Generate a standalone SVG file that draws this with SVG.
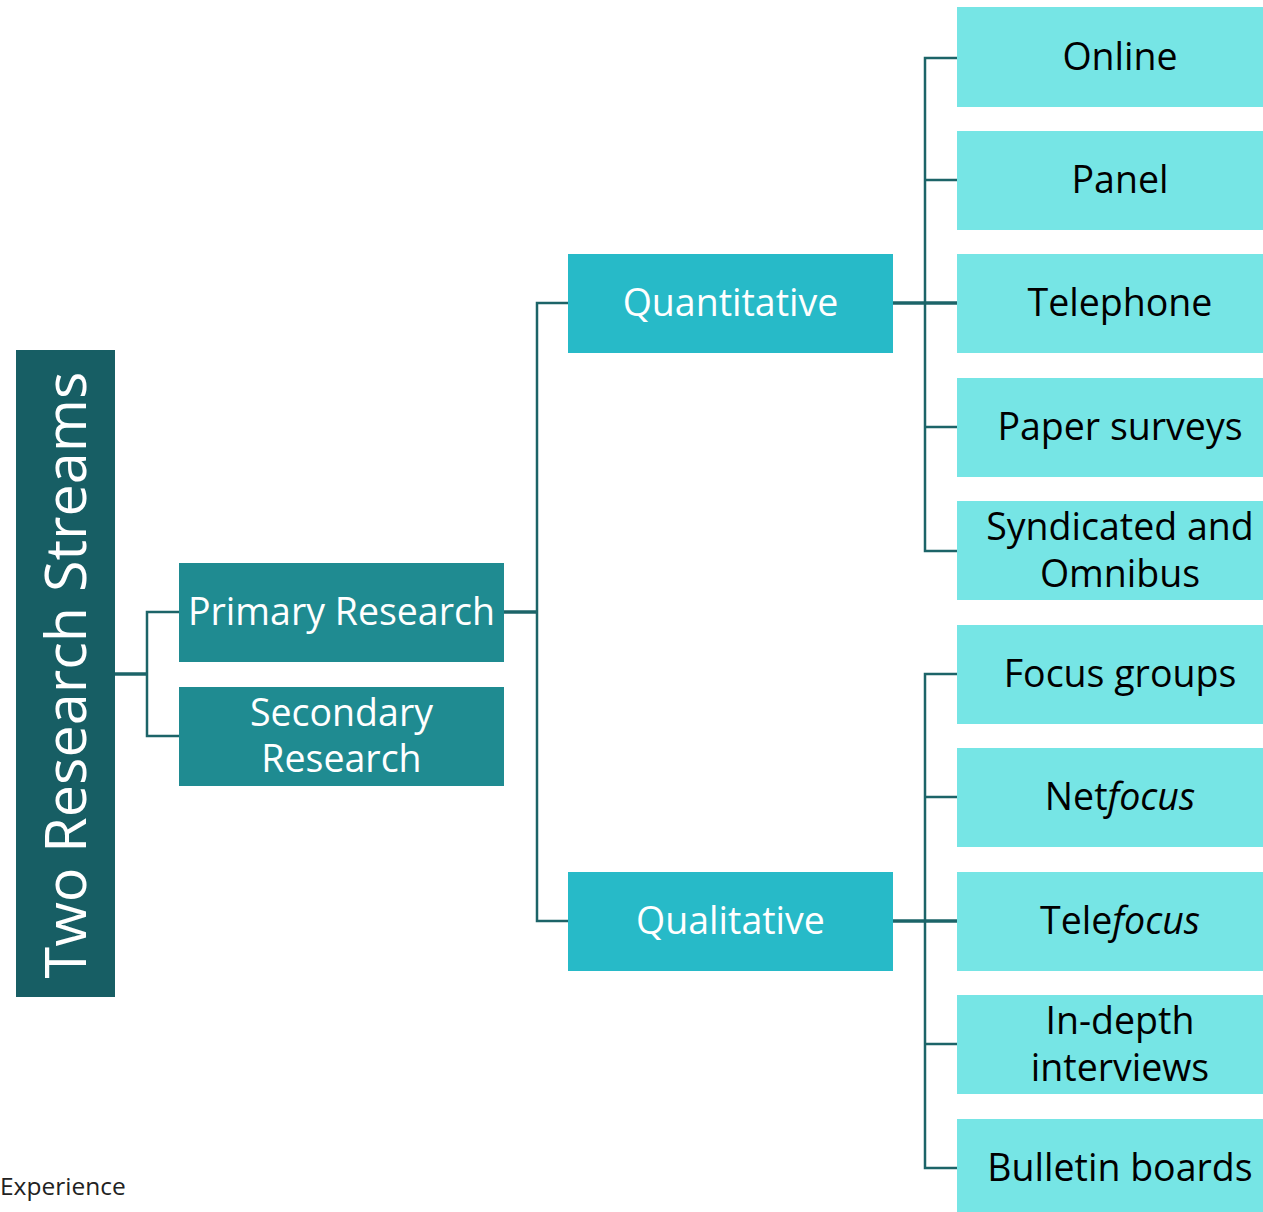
<svg xmlns="http://www.w3.org/2000/svg" width="1263" height="1212" viewBox="0 0 1263 1212">
  <style>
    .lbl { font-family: "Open Sans", "Noto Sans", sans-serif; font-size: 37.5px; text-anchor: middle; dominant-baseline: central; }
    .wt { fill: #ffffff; }
    .bk { fill: #000000; }
    .root { fill: #175e64; }
    .lvl1 { fill: #1f8b91; }
    .lvl2 { fill: #27bac8; }
    .leaf { fill: #76e5e5; }
    .conn { fill: none; stroke: #1c6468; stroke-width: 2.5; }
    .trunk { fill: none; stroke: #1c6468; stroke-width: 3.5; }
  </style>

  <!-- connectors -->
  <g id="connectors">
    <path class="trunk" d="M115 674 H147"/>
    <path class="conn" d="M179 612 H147 V736 H179"/>
    <path class="trunk" d="M504 612 H537"/>
    <path class="conn" d="M568 303 H537 V921 H568"/>
    <path class="trunk" d="M893 303 H957"/>
    <path class="conn" d="M957 58 H925 V551 H957 M925 180 H957 M925 427 H957"/>
    <path class="trunk" d="M893 921 H957"/>
    <path class="conn" d="M957 674 H925 V1168 H957 M925 797 H957 M925 1044 H957"/>
  </g>

  <g id="root">
    <rect class="root" x="16" y="350" width="99" height="647"/>
    <text class="lbl wt" transform="translate(64 675) rotate(-90)" style="font-size:57.5px">Two Research Streams</text>
  </g>

  <g id="primary">
    <rect class="lvl1" x="179" y="563" width="325" height="99"/>
    <text class="lbl wt" x="341.5" y="610">Primary Research</text>
  </g>
  <g id="secondary">
    <rect class="lvl1" x="179" y="687" width="325" height="99"/>
    <text class="lbl wt" x="341.5" y="711">Secondary</text>
    <text class="lbl wt" x="341.5" y="757">Research</text>
  </g>

  <g id="quantitative">
    <rect class="lvl2" x="568" y="254" width="325" height="99"/>
    <text class="lbl wt" x="730.5" y="301">Quantitative</text>
  </g>
  <g id="qualitative">
    <rect class="lvl2" x="568" y="872" width="325" height="99"/>
    <text class="lbl wt" x="730.5" y="919">Qualitative</text>
  </g>

  <g id="online">
    <rect class="leaf" x="957" y="7" width="306" height="100"/>
    <text class="lbl bk" x="1120" y="55">Online</text>
  </g>
  <g id="panel">
    <rect class="leaf" x="957" y="131" width="306" height="99"/>
    <text class="lbl bk" x="1120" y="178">Panel</text>
  </g>
  <g id="telephone">
    <rect class="leaf" x="957" y="254" width="306" height="99"/>
    <text class="lbl bk" x="1120" y="301">Telephone</text>
  </g>
  <g id="paper">
    <rect class="leaf" x="957" y="378" width="306" height="99"/>
    <text class="lbl bk" x="1120" y="425">Paper surveys</text>
  </g>
  <g id="syndicated">
    <rect class="leaf" x="957" y="501" width="306" height="99"/>
    <text class="lbl bk" x="1120" y="525">Syndicated and</text>
    <text class="lbl bk" x="1120" y="572">Omnibus</text>
  </g>
  <g id="focus">
    <rect class="leaf" x="957" y="625" width="306" height="99"/>
    <text class="lbl bk" x="1120" y="672">Focus groups</text>
  </g>
  <g id="netfocus">
    <rect class="leaf" x="957" y="748" width="306" height="99"/>
    <text class="lbl bk" x="1120" y="795">Net<tspan font-style="italic">focus</tspan></text>
  </g>
  <g id="telefocus">
    <rect class="leaf" x="957" y="872" width="306" height="99"/>
    <text class="lbl bk" x="1120" y="919">Tele<tspan font-style="italic">focus</tspan></text>
  </g>
  <g id="indepth">
    <rect class="leaf" x="957" y="995" width="306" height="99"/>
    <text class="lbl bk" x="1120" y="1019">In-depth</text>
    <text class="lbl bk" x="1120" y="1066">interviews</text>
  </g>
  <g id="bulletin">
    <rect class="leaf" x="957" y="1119" width="306" height="99"/>
    <text class="lbl bk" x="1120" y="1166">Bulletin boards</text>
  </g>

  <text x="0" y="1195" style="font-family:'Open Sans','Noto Sans',sans-serif;font-size:24.5px;fill:#222222">Experience</text>
</svg>
